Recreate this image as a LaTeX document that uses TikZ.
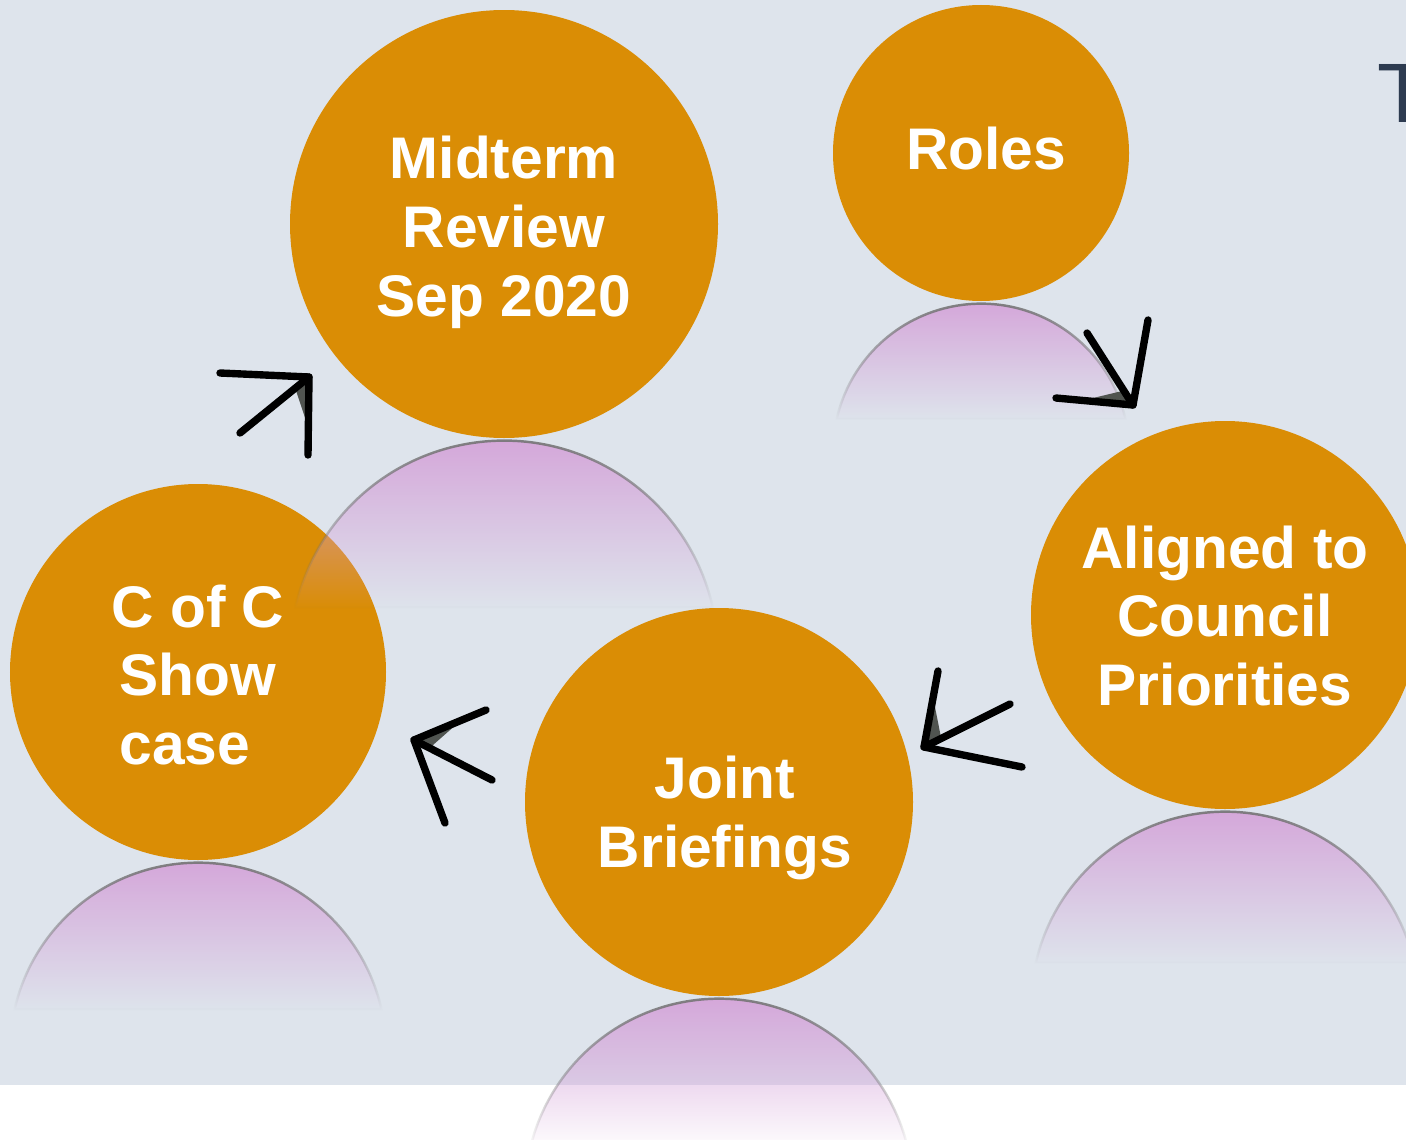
\documentclass[tikz,border=0pt]{standalone}
\usepackage{fontspec}
\setmainfont{Liberation Sans}
\usetikzlibrary{calc, fadings}

\definecolor{slidebg}{RGB}{222,228,236}
\definecolor{stageorange}{RGB}{218,141,5}
\definecolor{mirrorpink}{RGB}{212,160,216}
\definecolor{titlenavy}{RGB}{45,59,80}
\definecolor{tipgray}{RGB}{80,84,80}

\tikzfading[name=mirrorfade, top color=transparent!0, bottom color=transparent!100]

% reflection under a stage: node name, radius (cm)
\newcommand{\mirror}[2]{%
  \path[reflect] ($(#1.south)+({0.9755*#2},{-0.02-0.78*#2})$)
    arc[start angle=12.7, end angle=167.3, radius=#2] -- cycle;
}

\begin{document}
\begin{tikzpicture}[
  stage/.style={circle, fill=stageorange, inner sep=0pt},
  stagetext/.style={text=white, align=center, inner sep=0pt,
    font=\bfseries\fontsize{16.7}{19.6}\selectfont},
  reflect/.style={fill=mirrorpink, draw=black!55, line width=0.7pt, path fading=mirrorfade},
  cyc/.style={line width=2.1pt, line cap=round, line join=round}
]

\useasboundingbox (0,0) rectangle (14.06,11.39);
\fill[white] (0,0) rectangle (14.06,11.39);
\fill[slidebg] (0,0.54) rectangle (14.06,11.39);

% title letter, cut off at the edge
\node[anchor=base west, inner sep=0pt, text=titlenavy,
  font=\fontsize{24}{28}\selectfont] (title) at (13.77,10.17) {T};

% Stages
\node[stage, minimum size=4.28cm] (mid) at (5.04,9.15) {};
\node[stage, minimum size=2.96cm] (roles) at (9.81,9.86) {};
\node[stage, minimum size=3.88cm] (aligned) at (12.25,5.24) {};
\node[stage, minimum size=3.88cm] (joint) at (7.19,3.37) {};
\node[stage, minimum size=3.76cm] (coc) at (1.98,4.67) {};

% Reflections
\mirror{mid}{2.14}
\mirror{roles}{1.48}
\mirror{aligned}{1.94}
\mirror{joint}{1.94}
\mirror{coc}{1.88}

% Labels
\node[stagetext] (midtext) at ($(mid)+(0,-0.08)$) {Midterm\\Review\\Sep 2020};
\node[stagetext] (rolestext) at ($(roles)+(0.05,0.04)$) {Roles};
\node[stagetext] (alignedtext) at ($(aligned)+(0,-0.01)$) {Aligned to\\Council\\Priorities};
\node[stagetext] (jointtext) at ($(joint)+(0.06,-0.16)$) {Joint\\Briefings};
\node[stagetext] (coctext) at ($(coc)+(0,-0.03)$) {C of C\\Show\\case\hspace*{0.26cm}};

% Cycle arrows: tail / tip / shaded wing / other wing
\foreach \n/\tl/\tp/\wg/\wo in {
    1/{2.40,7.06}/{3.09,7.62}/{3.08,6.84}/{2.20,7.66},
    2/{10.87,8.06}/{11.33,7.34}/{10.56,7.41}/{11.48,8.19},
    3/{10.10,4.35}/{9.24,3.92}/{9.38,4.68}/{10.22,3.72},
    4/{4.92,3.59}/{4.14,3.99}/{4.86,4.29}/{4.45,3.16}} {
  \coordinate (tail\n) at (\tl);
  \coordinate (tip\n) at (\tp);
  \coordinate (wing\n) at (\wg);
  \coordinate (back\n) at (\wo);
  \fill[tipgray] (tip\n) -- ($(tip\n)!0.65!(wing\n)$) -- ($(tip\n)!0.2!(tail\n)$) -- cycle;
  \draw[cyc] (tail\n) -- (tip\n);
  \draw[cyc] (wing\n) -- (tip\n) -- (back\n);
}

\end{tikzpicture}
\end{document}
